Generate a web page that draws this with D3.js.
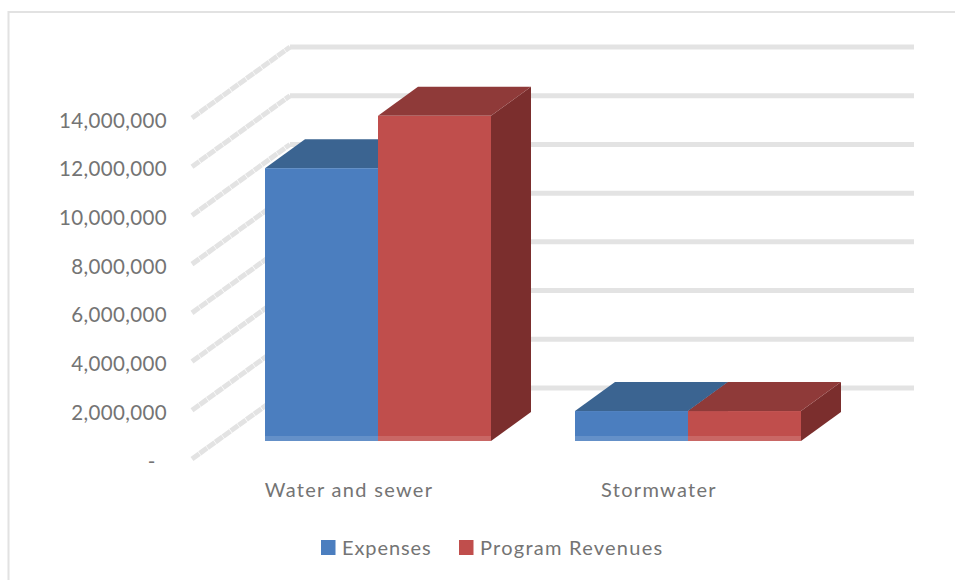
<!DOCTYPE html>
<html>
<head>
<meta charset="utf-8">
<script src="https://cdn.jsdelivr.net/npm/d3@7/dist/d3.min.js"></script>
<style>
html,body{margin:0;padding:0;background:#fff;}
svg{display:block;}
text{font-family:Lato,"Open Sans",sans-serif;fill:#747474;}
</style>
</head>
<body>
<svg id="chart" width="955" height="580"></svg>
<script>
// Program figures by activity
const categories = ["Water and sewer", "Stormwater"];
const seriesNames = ["Expenses", "Program Revenues"];
const expenses = [11200000, 1230000];
const programRevenues = [13350000, 1230000];
const tickValues = [0, 2000000, 4000000, 6000000, 8000000, 10000000, 12000000, 14000000];

const frontColors = ["#4b7ebf", "#c04e4c"];
const topColors = ["#3b6491", "#8f3a39"];
const sideColors = ["#2f5078", "#7b2e2d"];

const svg = d3.select("#chart");

// Panel outline
svg.append("path")
  .attr("d", "M8.5,580V12H955")
  .attr("fill", "none")
  .attr("stroke", "#e2e2e2")
  .attr("stroke-width", 2);

// Projection of the 3D box: height in px, plus floor depth offsets
const wall = {x0: 192, y0: 459, dx: 98, dy: -71, right: 914};
const height = d3.scaleLinear().domain([0, 14000000]).range([0, 341]);
const axisY = d3.scaleLinear().domain([0, 14000000]).range([wall.y0, wall.y0 - 341]);

// Side wall and back wall gridlines
const grid = svg.append("g").attr("fill", "none").attr("stroke", "#e3e3e3").attr("stroke-width", 5);
grid.selectAll("path.diag").data(tickValues).join("path")
  .attr("class", "diag")
  .attr("stroke-dasharray", "9 0.6")
  .attr("d", d => `M${wall.x0},${wall.y0 - height(d)}L${wall.x0 + wall.dx},${wall.y0 + wall.dy - height(d)}`);
grid.selectAll("path.back").data(tickValues).join("path")
  .attr("class", "back")
  .attr("d", d => `M${wall.x0 + wall.dx},${wall.y0 + wall.dy - height(d)}H${wall.right}`);

// Value axis
const fmt = d3.format(",");
const yAxis = d3.axisLeft(axisY)
  .tickValues(tickValues)
  .tickSize(0)
  .tickPadding(0)
  .tickFormat(d => d === 0 ? "-\u00a0\u00a0" : fmt(d));
const yG = svg.append("g").attr("transform", "translate(167,2.5)").call(yAxis);
yG.select(".domain").remove();
yG.selectAll("text")
  .attr("font-size", 20.5)
  .attr("letter-spacing", 0.35)
  .style("font-family", "Lato")
  .attr("fill", "#747474");

// Bars
const centers = d3.scaleOrdinal().domain(categories).range([378, 688]);
const barX = d3.scaleBand().domain(seriesNames).range([-113, 113]);
const base = 441;
const depth = {dx: 40, dy: -29};
const seriesValues = [expenses, programRevenues];

const rows = seriesNames.flatMap((name, s) =>
  categories.map((cat, c) => ({name, cat, s, value: seriesValues[s][c]})));

// Draw back to front: each category, blue then red
rows.sort((a, b) => d3.ascending(a.cat === categories[0] ? 0 : 1, b.cat === categories[0] ? 0 : 1) || a.s - b.s);

const bars = svg.append("g").selectAll("g").data(rows).join("g");
bars.each(function(d) {
  const g = d3.select(this);
  const x0 = centers(d.cat) + barX(d.name);
  const x1 = x0 + barX.bandwidth();
  const top = base - height(d.value);
  g.append("polygon")
    .attr("fill", sideColors[d.s])
    .attr("points", [[x1, base], [x1 + depth.dx, base + depth.dy], [x1 + depth.dx, top + depth.dy], [x1, top]].join(" "));
  g.append("polygon")
    .attr("fill", topColors[d.s])
    .attr("points", [[x0, top], [x0 + depth.dx, top + depth.dy], [x1 + depth.dx, top + depth.dy], [x1, top]].join(" "));
  g.append("rect")
    .attr("x", x0).attr("y", top)
    .attr("width", x1 - x0).attr("height", base - top)
    .attr("fill", frontColors[d.s]);
  // Floor line showing faintly through the foot of each bar
  g.append("rect")
    .attr("x", x0).attr("y", base - 5)
    .attr("width", x1 - x0).attr("height", 5)
    .attr("fill", "#fff").attr("opacity", 0.14);
});

// Category labels
svg.append("g").selectAll("text").data(categories).join("text")
  .attr("x", d => centers(d) - 29)
  .attr("y", 497)
  .attr("text-anchor", "middle")
  .attr("font-size", 20)
  .attr("letter-spacing", 1.3)
  .text(d => d);

// Legend
const legendX = d3.scaleOrdinal().domain(seriesNames).range([321, 459]);
const legend = svg.append("g").selectAll("g").data(seriesNames).join("g")
  .attr("transform", d => `translate(${legendX(d)},540)`);
legend.append("rect").attr("width", 14.5).attr("height", 15)
  .attr("fill", (d, i) => frontColors[i]);
legend.append("text").attr("x", 21).attr("y", 15)
  .attr("font-size", 20)
  .attr("letter-spacing", (d, i) => i ? 1.25 : 0.9)
  .text(d => d);
</script>
</body>
</html>
